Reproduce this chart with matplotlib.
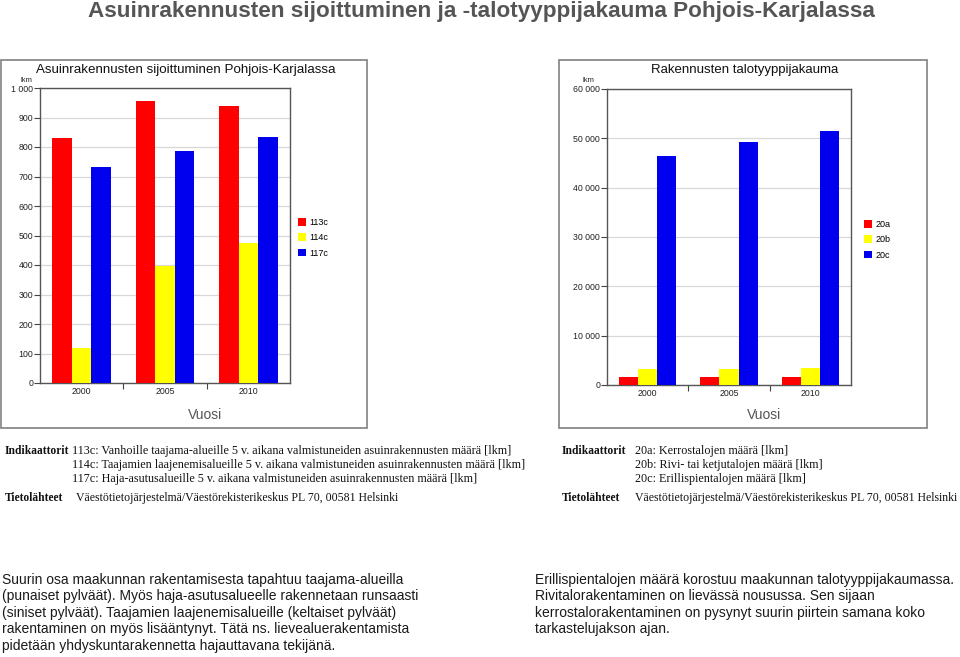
import matplotlib
matplotlib.use("Agg")
import matplotlib.pyplot as plt
from matplotlib.patches import Rectangle
import numpy as np

# ---------------- data ----------------
years = ["2000", "2005", "2010"]
left_series = ["113c", "114c", "117c"]
v113c = [830, 955, 940]
v114c = [118, 395, 476]
v117c = [732, 788, 835]

right_series = ["20a", "20b", "20c"]
v20a = [1650, 1700, 1700]
v20b = [3250, 3300, 3450]
v20c = [46500, 49300, 51500]

left_yticks = [0, 100, 200, 300, 400, 500, 600, 700, 800, 900, 1000]
left_yticklabels = ["0", "100", "200", "300", "400", "500", "600", "700", "800", "900", "1 000"]
right_yticks = [0, 10000, 20000, 30000, 40000, 50000, 60000]
right_yticklabels = ["0", "10 000", "20 000", "30 000", "40 000", "50 000", "60 000"]

colors = ["#ff0000", "#ffff00", "#0000ee"]

W, H = 960, 657
fig = plt.figure(figsize=(W / 100, H / 100), dpi=100)
fig.patch.set_facecolor("white")

SANS = ["Liberation Sans", "DejaVu Sans"]
SERIF = ["Liberation Serif", "DejaVu Serif"]


def fx(x):
    return x / W


def fy(y):
    return 1 - y / H


def ftext(x, y, s, **kw):
    fig.text(fx(x), fy(y), s, **kw)


def axes_px(x0, y0, x1, y1):
    return fig.add_axes([fx(x0), fy(y1), (x1 - x0) / W, (y1 - y0) / H])


# main title
ftext(481, 12, "Asuinrakennusten sijoittuminen ja -talotyyppijakauma Pohjois-Karjalassa",
      ha="center", va="center", fontsize=16.2, fontweight="bold", color="#555555", family=SANS)

# panel frames
for (x0, y0, x1, y1) in [(1, 60, 367, 428), (559, 60, 927, 428)]:
    fig.patches.append(Rectangle((fx(x0), fy(y1)), (x1 - x0) / W, (y1 - y0) / H,
                                 transform=fig.transFigure, fill=False,
                                 edgecolor="#8a8a8a", linewidth=1.3))


def draw_panel(rect, series_vals, series_names, yticks, yticklabels, ymax, title, title_x,
               title_size, lkm_x, vuosi_x, legend_xy):
    ax = axes_px(*rect)
    x = np.arange(len(years))
    bw = 0.234
    handles = []
    for i, vals in enumerate(series_vals):
        h = ax.bar(x + (i - 1) * bw, vals, width=bw, color=colors[i], edgecolor="none",
                   label=series_names[i], zorder=3)
        handles.append(h)
    ax.set_xlim(-0.5, len(years) - 0.5)
    ax.set_ylim(0, ymax)
    ax.set_yticks(yticks)
    ax.set_yticklabels(yticklabels, family=SANS, fontsize=6.3, color="#222222")
    ax.set_xticks(x)
    ax.set_xticklabels(years, family=SANS, fontsize=6.3, color="#222222")
    ax.set_xticks([0.5, 1.5], minor=True)
    ax.tick_params(axis="x", which="major", length=0, pad=3)
    ax.tick_params(axis="x", which="minor", length=4, direction="out", color="#444444", width=0.8)
    ax.tick_params(axis="y", which="major", length=4, direction="out", color="#444444",
                   width=0.8, pad=1)
    ax.yaxis.grid(True, color="#d8d8d8", linewidth=0.9, zorder=0)
    ax.set_axisbelow(True)
    for sp in ax.spines.values():
        sp.set_color("#555555")
        sp.set_linewidth(1.0)
    ftext(title_x, 70, title, ha="center", va="center", fontsize=title_size, color="#111111",
          family=SANS)
    ftext(lkm_x, 80, "lkm", ha="center", va="center", fontsize=5.5, color="#222222", family=SANS)
    ftext(vuosi_x, 415, "Vuosi", ha="center", va="center", fontsize=10, color="#555555",
          family=SANS)
    ax.legend(handles=handles, loc="upper left",
              bbox_to_anchor=(fx(legend_xy[0]), fy(legend_xy[1])),
              bbox_transform=fig.transFigure, frameon=False,
              prop={"family": SANS, "size": 6.5},
              handlelength=0.9, handleheight=0.9, handletextpad=0.4,
              labelspacing=0.7, borderaxespad=0, borderpad=0)
    return ax


draw_panel((40, 88, 290, 383), [v113c, v114c, v117c], left_series, left_yticks,
           left_yticklabels, 1000, "Asuinrakennusten sijoittuminen Pohjois-Karjalassa", 186, 9.6,
           26, 205, (298, 218))
draw_panel((607, 89, 851, 385), [v20a, v20b, v20c], right_series, right_yticks,
           right_yticklabels, 60000, "Rakennusten talotyyppijakauma", 745, 9.5,
           588, 764, (864, 220))

# indicator blocks (serif)
left_ind = ["113c: Vanhoille taajama-alueille 5 v. aikana valmistuneiden asuinrakennusten määrä [lkm]",
            "114c: Taajamien laajenemisalueille 5 v. aikana valmistuneiden asuinrakennusten määrä [lkm]",
            "117c: Haja-asutusalueille 5 v. aikana valmistuneiden asuinrakennusten määrä [lkm]"]
right_ind = ["20a: Kerrostalojen määrä [lkm]",
             "20b: Rivi- tai ketjutalojen määrä [lkm]",
             "20c: Erillispientalojen määrä [lkm]"]
source = "Väestötietojärjestelmä/Väestörekisterikeskus PL 70, 00581 Helsinki"

for (x_lab, x_txt, x_src, lines) in [(5, 72, 76, left_ind), (562, 635, 635, right_ind)]:
    ftext(x_lab, 451, "Indikaattorit", ha="left", va="center", fontsize=8.3,
          fontweight="bold", family=SERIF, color="#111111")
    for k, s in enumerate(lines):
        ftext(x_txt, 451 + k * 13.8, s, ha="left", va="center", fontsize=8.7,
              family=SERIF, color="#111111")
    ftext(x_lab, 498, "Tietolähteet", ha="left", va="center", fontsize=8.3,
          fontweight="bold", family=SERIF, color="#111111")
    ftext(x_src, 498, source, ha="left", va="center", fontsize=8.45,
          family=SERIF, color="#111111")

# bottom commentary
left_text = ["Suurin osa maakunnan rakentamisesta tapahtuu taajama-alueilla",
             "(punaiset pylväät). Myös haja-asutusalueelle rakennetaan runsaasti",
             "(siniset pylväät). Taajamien laajenemisalueille (keltaiset pylväät)",
             "rakentaminen on myös lisääntynyt. Tätä ns. lievealuerakentamista",
             "pidetään yhdyskuntarakennetta hajauttavana tekijänä."]
right_text = ["Erillispientalojen määrä korostuu maakunnan talotyyppijakaumassa.",
              "Rivitalorakentaminen on lievässä nousussa. Sen sijaan",
              "kerrostalorakentaminen on pysynyt suurin piirtein samana koko",
              "tarkastelujakson ajan."]
for k, s in enumerate(left_text):
    ftext(2, 580 + k * 16.4, s, ha="left", va="center", fontsize=10, family=SANS,
          color="#1a1a1a")
for k, s in enumerate(right_text):
    ftext(535, 580 + k * 16.4, s, ha="left", va="center", fontsize=10, family=SANS,
          color="#1a1a1a")

fig.savefig("out.png", dpi=100, facecolor="white")
